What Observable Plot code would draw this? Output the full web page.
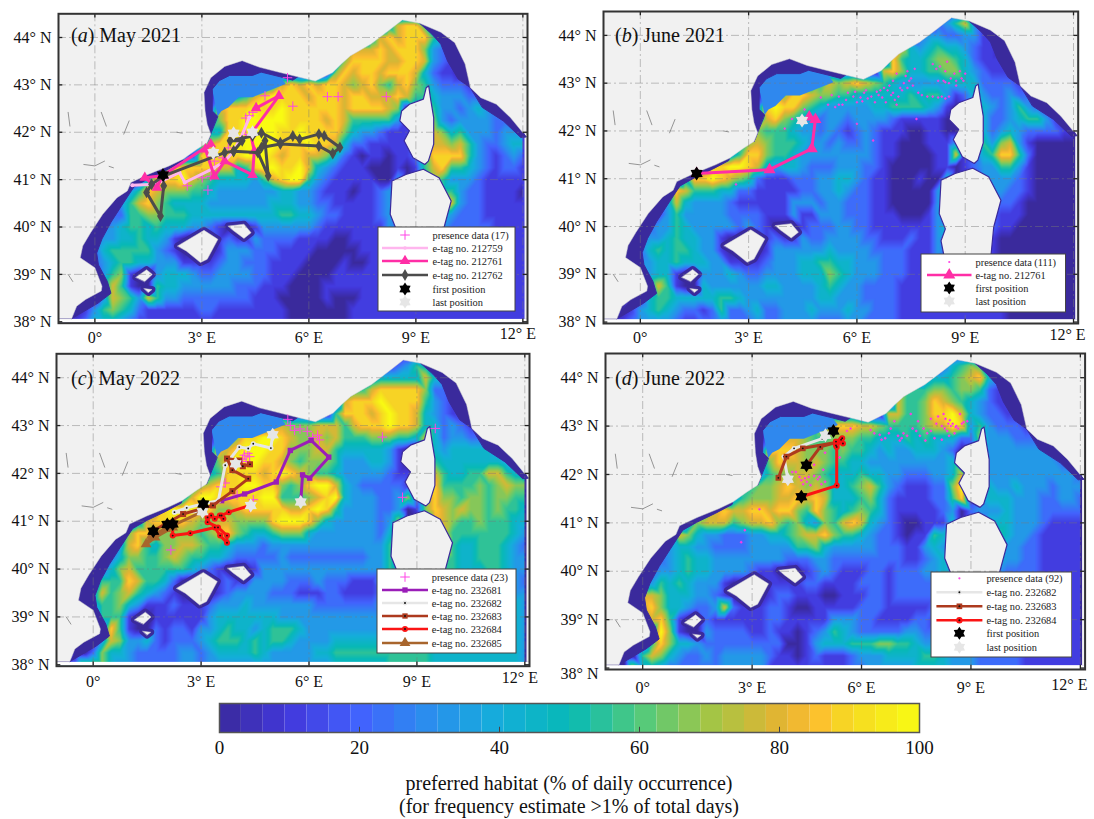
<!DOCTYPE html>
<html><head><meta charset="utf-8">
<script src="https://cdn.jsdelivr.net/npm/d3@7"></script>
<script src="https://cdn.jsdelivr.net/npm/@observablehq/plot@0.6"></script>
<style>
html,body{margin:0;padding:0;background:#fff;}
#page{position:relative;width:1094px;height:819px;overflow:hidden;font-family:"Liberation Serif",serif;color:#111;}
#page>svg,#page>div{position:absolute;}
.plab{font-size:20px;white-space:nowrap;}
.cap{font-size:20px;left:219px;width:700px;text-align:center;white-space:nowrap;}
</style></head><body><div id="page"></div>
<script>
// Habitat grids: rows lat 44.5 -> 38 (0.25 deg), columns lon -1 -> 12 (0.25 deg); digit d = d/9*100 %
const habitatA=[
"0000 0000 0000 0000 0000 0000 0000 0000 0000 0000 0000 0000 0000 0",
"0000 0000 0000 0000 0000 0000 0000 0000 0000 0478 8520 0000 0000 0",
"0000 0000 0000 0000 0000 0000 0000 0000 0004 7878 8852 0000 0000 0",
"0000 0000 0000 0000 0000 0000 0000 0000 5777 8788 8632 1000 0000 0",
"0000 0000 0000 0000 0000 0000 0000 0000 6888 8778 8732 1000 0000 0",
"0000 0000 0000 0000 0002 1211 1000 0006 8788 7888 7421 1000 0000 0",
"0000 0000 0000 0000 0023 3333 4787 8788 7678 6578 6532 2211 0000 0",
"0000 0000 0000 0000 0033 4578 9888 7888 7887 7787 5543 3322 1211 0",
"0000 0000 0000 0000 0178 8898 8988 8888 7888 8760 3453 3234 3331 0",
"0000 0000 0000 0000 0368 8999 9988 8878 7555 5531 1663 2333 3222 1",
"0000 0000 0000 0000 1448 8999 9889 8888 6433 2111 2576 4533 3233 2",
"0000 0000 0000 0004 5788 9999 9888 9887 4221 1111 2677 6753 2234 4",
"0000 0000 0000 0011 8888 8999 8788 7764 2101 1011 2588 8853 2123 2",
"0000 0000 0001 5888 8877 4589 9889 7432 1110 0010 1578 5543 2122 1",
"0000 0000 0048 8897 6544 4435 7899 5321 1111 0030 1265 3332 1111 1",
"0000 0001 3587 6665 5433 3333 3443 3211 1011 2310 0035 5322 1111 0",
"0000 0023 5786 5444 4333 3333 4443 3221 1111 2310 0028 7322 1111 1",
"0000 0022 5566 5554 4444 4444 4554 4322 1111 2320 0124 3222 1111 1",
"0000 1234 5545 4443 3210 0013 3333 3211 1111 1320 0123 2222 2111 1",
"0000 2334 4544 3100 0012 1132 2221 1110 0111 1320 0123 2211 2211 1",
"0001 2455 5553 2100 0013 3322 2111 1000 0011 1320 0122 2111 2211 1",
"0001 2345 5443 3311 1123 3222 1111 0000 1001 1320 0122 2111 2211 1",
"0000 1356 1003 4443 2233 3322 1110 0001 1111 1111 1122 2111 1111 1",
"0000 0375 1005 4433 3333 2221 1100 0011 1111 1111 1111 1111 1111 1",
"0000 0376 5375 3322 2222 2211 1000 0010 0011 1111 1111 1111 1111 1",
"0001 3565 4211 1111 2211 1111 1100 0000 0111 1111 1111 1111 1111 1",
"0012 4443 2111 1111 1111 1111 1100 0000 0111 1111 1111 1111 1111 1"];
const habitatB=[
"0000 0000 0000 0000 0000 0000 0000 0000 0000 0000 0000 0000 0000 0",
"0000 0000 0000 0000 0000 0000 0000 0000 0000 0235 7300 0000 0000 0",
"0000 0000 0000 0000 0000 0000 0000 0000 0002 3322 3311 0000 0000 0",
"0000 0000 0000 0000 0000 0000 0000 0000 3743 4544 3211 0000 0000 0",
"0000 0000 0000 0000 0000 0000 0000 0000 8544 5665 4211 1000 0000 0",
"0000 0000 0000 0000 0023 3321 1111 0007 8644 5566 4321 1100 0000 0",
"0000 0000 0000 0000 0023 3333 5767 8765 4333 3344 4422 2211 1000 0",
"0000 0000 0000 0000 0024 6887 6655 4444 4454 5531 2432 2322 1111 0",
"0000 0000 0000 0000 0289 8865 4333 3344 5555 4310 1443 2353 2111 0",
"0000 0000 0000 0000 0278 6543 2332 3333 2111 1100 1442 2345 5311 0",
"0000 0000 0000 0000 1655 5433 2321 2321 1100 1100 1342 3432 2221 1",
"0000 0000 0000 0005 6765 5543 3232 2321 1000 1113 1253 6731 0000 0",
"0000 0000 0000 0135 8865 5433 3333 3321 1000 0117 1245 8852 0000 0",
"0000 0000 0125 8899 8743 4432 2233 3221 0000 0110 1233 5531 0000 0",
"0000 0000 0488 9876 5211 1222 3344 3211 0001 0040 0133 3321 0000 0",
"0000 0003 8755 5442 2111 1122 3343 2211 0000 0330 0023 3221 0000 0",
"0000 0013 7433 3321 1111 1333 2332 2211 0000 0330 0023 2210 0000 0",
"0000 0013 5333 3322 2211 1311 3332 2211 1000 1320 0012 1110 0000 0",
"0000 1233 5433 3332 3210 0012 2233 2211 1111 1340 0012 1100 0000 0",
"0000 2334 5443 3100 0012 1132 2333 3221 1121 1320 0011 0000 0000 0",
"0001 2454 5543 3100 0013 3333 3433 3322 2211 1320 0011 0000 0000 0",
"0001 3344 5444 3311 1123 3344 5544 3332 2211 1220 0011 0000 0000 0",
"0001 6344 1003 3343 2233 3344 4654 3332 2211 1111 1111 0000 0000 0",
"0000 1375 1004 3333 3344 3333 4543 3222 2111 1111 1111 0000 0000 0",
"0000 1455 4444 4554 3333 3333 4433 3222 2111 1111 1111 1000 0000 0",
"0001 3454 3221 2522 3422 3334 3334 3322 2111 1111 1111 1000 0000 0",
"0012 3333 2112 2322 2322 3333 2223 3222 2111 1111 1111 1000 0000 0"];
const habitatC=[
"0000 0000 0000 0000 0000 0000 0000 0000 0000 0000 0000 0000 0000 0",
"0000 0000 0000 0000 0000 0000 0000 0000 0000 0123 5410 0000 0000 0",
"0000 0000 0000 0000 0000 0000 0000 0000 0003 4444 4742 0000 0000 0",
"0000 0000 0000 0000 0000 0000 0000 0000 4557 8888 8622 1000 0000 0",
"0000 0000 0000 0000 0000 0000 0000 0000 7888 9888 8532 1000 0000 0",
"0000 0000 0000 0000 0012 3321 1111 0005 8887 8988 7432 1100 0000 0",
"0000 0000 0000 0000 0023 3334 7766 6777 5788 8988 7442 3211 1000 0",
"0000 0000 0000 0000 0024 6889 9876 6767 5556 6655 4742 3322 1111 0",
"0000 0000 0000 0000 0287 8999 8866 6775 4444 4310 1743 4444 4332 1",
"0000 0000 0000 0000 0368 9998 8765 6665 3334 4310 1854 4444 4433 2",
"0000 0000 0000 0000 1458 8887 8987 6554 3333 3211 2775 4455 7754 3",
"0000 0000 0000 0004 6788 8998 8656 8997 4322 2221 2785 5556 5676 6",
"0000 0000 0000 0137 9988 8889 9555 6789 4333 2236 2686 6566 5665 5",
"0000 0000 0025 8999 8866 7888 8877 8985 3333 2230 1687 6766 5655 4",
"0000 0000 0378 8887 6677 6666 8999 8643 3333 2360 0377 6556 5554 4",
"0000 0003 6886 6666 5678 6544 5666 4333 3333 2440 0287 5555 5554 3",
"0000 0023 7854 6677 6554 3332 3333 3333 3333 3530 0268 5445 5543 2",
"0000 0024 6655 6765 5443 2222 2322 2222 2223 3530 0246 5445 5543 3",
"0000 1246 7555 5554 3210 0013 3333 3333 3333 3540 0245 5444 5543 3",
"0000 3555 8755 4200 0012 1133 3322 2322 2111 3540 0134 4444 4443 2",
"0001 3756 7543 2100 0012 3333 2221 1122 1111 2331 1234 4444 5543 3",
"0001 3556 4311 1211 1233 3433 3333 3222 2222 3443 3344 5555 5544 3",
"0001 1555 1001 1111 1344 4444 4333 3333 3333 3333 3344 4444 4444 3",
"0000 1285 1002 1221 3345 4434 5554 3333 3333 3344 4444 4444 4444 3",
"0000 0376 3342 1222 3455 5454 5543 3334 4444 4444 4444 4444 4444 3",
"0000 2644 3222 2233 2344 4454 3333 3445 5555 5555 5544 4444 4444 3",
"0026 6643 3222 2233 2333 3333 3333 3334 4444 4555 5544 4444 4444 3"];
const habitatD=[
"0000 0000 0000 0000 0000 0000 0000 0000 0000 0000 0000 0000 0000 0",
"0000 0000 0000 0000 0000 0000 0000 0000 0000 0245 6510 0000 0000 0",
"0000 0000 0000 0000 0000 0000 0000 0000 0003 4456 7842 0000 0000 0",
"0000 0000 0000 0000 0000 0000 0000 0000 3555 6656 6521 1000 0000 0",
"0000 0000 0000 0000 0000 0000 0000 0000 7556 8765 4321 1000 0000 0",
"0000 0000 0000 0000 0023 3321 1222 0007 7556 8897 4322 1100 0000 0",
"0000 0000 0000 0000 0023 3335 7888 7765 5556 7798 3532 2211 1000 0",
"0000 0000 0000 0000 0024 7765 5666 5544 4545 4442 2633 3222 1111 0",
"0000 0000 0000 0000 0288 8766 6565 5434 3344 4320 1533 3333 3221 0",
"0000 0000 0000 0000 0368 7767 6554 4333 3333 3340 1633 3333 3322 1",
"0000 0000 0000 0000 1356 6776 5444 5443 3222 3347 1533 3333 3333 2",
"0000 0000 0000 0005 5667 8767 6445 6753 2111 2269 1343 3433 3233 3",
"0000 0000 0000 0135 6667 7878 7444 5642 1111 2258 1344 4333 2233 2",
"0000 0000 0025 7877 8878 8658 6545 6542 1111 1230 2333 4333 2222 2",
"0000 0000 0367 7756 7786 5643 6578 7432 1001 1140 1244 4333 2111 1",
"0000 0003 7643 3222 3344 5677 8655 4322 1011 5430 0255 4332 1111 1",
"0000 0023 4433 2222 3333 3556 4333 3322 2113 4320 0384 3322 1111 1",
"0000 0023 4544 3333 3333 2223 3222 2222 2112 3430 0274 3322 1111 1",
"0000 1233 4544 3333 2110 0012 3211 1221 2223 3430 0233 2222 1111 1",
"0000 2354 5433 3100 0011 1122 1111 2221 2222 2322 2222 2211 1111 1",
"0001 7764 4433 2100 0012 2111 0011 1221 2222 2222 2222 2211 1111 1",
"0001 7864 4322 3721 1122 1001 1111 2221 1111 2222 2222 2211 1111 1",
"0000 1785 1002 1111 1122 1111 1333 2211 1122 1223 2222 2211 1111 1",
"0000 1396 1003 2222 1121 1012 3543 2222 2332 2111 2222 2211 1111 1",
"0000 1586 4432 2222 2222 0013 4445 5566 5543 3333 3222 2211 1111 1",
"0000 5764 3223 2333 3321 1012 1112 3334 4445 5433 3222 2211 1111 1",
"0007 4432 2222 2333 3311 1111 1112 2333 3344 4433 3222 2211 1111 1"];
const lonTicks=[0,3,6,9,12], latTicks=[38,39,40,41,42,43,44];
const bandStarts=[0,3.125,6.25,9.375,12.5,15.625,18.75,21.875,25,28.125,31.25,34.375,37.5,40.625,43.75,46.875,50,53.125,56.25,59.375,62.5,65.625,68.75,71.875,75,78.125,81.25,84.375,87.5,90.625,93.75,96.875];
const colorStops=[0,10,20,30,40,50,60,70,80,85,90,100];
const colorRange=["#3a2a9c","#4238dc","#4262fd","#2a8eee","#14aeda","#07b9b6","#4fca7e","#a2c646","#e2b432","#fdbd30","#f5d922","#f9fb12"];
// Coastlines
const mainland=[[-0.65,38.07],[-0.51,38.33],[-0.26,38.47],[0.18,38.65],[0.2,38.75],[0,39.14],[-0.41,39.35],[-0.34,39.6],[-0.12,39.88],[0.22,40.27],[0.62,40.62],[0.91,40.76],[1.01,40.94],[1.49,41.11],[2.08,41.29],[2.47,41.43],[2.86,41.64],[3.15,41.78],[3.25,41.96],[3.15,42.17],[3.09,42.45],[3.06,42.84],[3.25,43.15],[3.64,43.39],[4.13,43.51],[4.62,43.37],[5.2,43.26],[5.69,43.17],[6.18,43.08],[6.67,43.26],[6.91,43.44],[7.16,43.61],[7.74,43.86],[8.23,44.14],[8.62,44.37],[9.11,44.3],[9.7,44.11],[10.09,43.89],[10.38,43.44],[10.53,42.94],[10.82,42.73],[11.26,42.59],[11.65,42.31],[11.99,42],[12.2,41.96],[12.2,44.6],[-1.1,44.6],[-1.1,38.07],[-0.65,38.07]];
const corsica=[[9.36,42.98],[9.42,42.67],[9.5,42.31],[9.5,41.75],[9.35,41.39],[9.25,41.32],[8.92,41.46],[8.77,41.68],[8.67,41.82],[8.82,42.03],[8.55,42.24],[8.6,42.45],[8.82,42.59],[9.21,42.7],[9.29,42.94],[9.36,42.98]];
const sardinia=[[9.21,41.22],[9.65,41.04],[9.99,40.55],[9.79,39.99],[9.7,39.28],[9.5,38.93],[8.53,38.93],[8.33,39.7],[8.45,39.95],[8.28,40.27],[8.33,40.97],[8.72,41.11],[9.21,41.22]];
const mallorca=[[2.32,39.6],[3.06,39.93],[3.45,39.74],[3.15,39.32],[2.96,39.25],[2.57,39.49],[2.32,39.6]];
const menorca=[[3.74,40.02],[4.18,40.06],[4.38,39.88],[4.18,39.76],[3.89,39.92],[3.74,40.02]];
const ibiza=[[1.15,38.94],[1.45,39.1],[1.61,39],[1.4,38.85],[1.15,38.94]];
const formentera=[[1.38,38.7],[1.6,38.68],[1.5,38.62],[1.38,38.7]];
// Dark shelf rims and the Gulf of Lion plateau
const shelfLion=[[3.15,41.78],[3.25,41.96],[3.15,42.17],[3.09,42.45],[3.06,42.84],[3.25,43.15],[3.64,43.39],[4.13,43.51],[4.62,43.37],[5.2,43.26],[5.69,43.17],[5.55,43.1],[5.2,43.17],[4.66,43.27],[4.42,43.2],[3.78,43.2],[3.49,43.09],[3.29,42.91],[3.29,42.45],[3.44,42.34],[3.3,42.0]];
const plateauLion=[[3.29,42.91],[3.49,43.09],[3.78,43.2],[4.42,43.2],[4.66,43.27],[5.2,43.17],[5.35,43.02],[4.42,42.74],[4.03,42.74],[3.74,42.52],[3.55,42.45],[3.44,42.34],[3.29,42.45]];
const shelfWest=[[-0.65,38.07],[-0.26,38.47],[0.18,38.65],[0.2,38.75],[0,39.14],[-0.41,39.35],[-0.34,39.6],[-0.12,39.88],[0.22,40.27],[0.62,40.62],[0.91,40.76],[1.01,40.94],[1.49,41.11],[2.08,41.29],[2.47,41.43],[2.45,41.38],[2,41.2],[1.5,41.02],[1.1,40.85],[0.95,40.68],[0.75,40.45],[0.45,40.1],[0.2,39.75],[0.05,39.45],[0.1,39.2],[0.35,38.85],[0.45,38.6],[0.1,38.4],[-0.3,38.07]];
const shelfLigurian=[[9.11,44.3],[9.7,44.11],[10.09,43.89],[10.38,43.44],[10.53,42.94],[10.19,43.12],[9.89,43.5],[9.7,43.86],[9.45,44.07],[9.11,44.25]];
const shelfTuscan=[[10.53,42.94],[10.82,42.73],[11.26,42.59],[11.65,42.31],[11.99,42],[12.1,41.9],[11.94,41.89],[11.45,42.24],[10.87,42.52],[10.6,42.65]];
const landLines=[[[-0.31,41.32],[0,41.29],[0.27,41.39]],[[0.4,41.28],[0.52,41.25]],[[0.18,42.42],[0.32,42.13]],[[-0.75,42.42],[-0.7,42.13]],[[0.96,42.24],[0.81,41.96]],[[2.3,42.0],[2.45,41.98]],[[-0.75,39.0],[-0.62,38.85]]];
// Tracks
const tag212759=[[1.05,40.88],[1.69,40.9],[2.37,41.15],[2.52,40.94],[3.35,41.25],[3.64,41.39],[3.89,41.6],[4.1,41.9],[4.33,42.31]];
const tag212761a=[[1.89,41.08],[1.4,41.04],[1.74,40.83],[1.89,41.08],[3.25,41.75],[3.1,41.64],[3.35,41.07],[3.64,41.39],[4.42,41.1],[4.47,41.6],[4.37,41.96],[5.16,42.77],[4.52,42.51]];
const tag212762=[[1.93,40.87],[1.84,40.23],[1.45,40.73],[1.59,40.9],[1.93,41.08],[3.64,41.57],[3.89,41.6],[4.13,41.82],[3.79,41.82],[4.42,41.92],[4.67,41.99],[5.2,41.78],[5.55,41.92],[5.74,41.85],[6.28,41.96],[6.43,41.92],[6.87,41.68],[6.67,41.55],[6.28,41.71],[5.2,41.75],[4.67,41.68],[4.77,41.82],[4.86,41.08],[4.57,41.57],[3.89,41.6]];
const tag212761b=[[1.56,41.11],[3.58,41.19],[4.75,41.63],[4.85,42.24],[4.68,42.29]];
const tag232681=[[3.57,41.43],[4.21,41.57],[5.09,41.82],[5.48,42.48],[6.06,42.69],[6.55,42.34],[6.02,41.9],[5.82,41.97],[5.77,41.4]];
const tag232682c=[[3.04,41.2],[2.26,41.19],[2.6,41.28],[3.04,41.36],[3.48,41.43],[3.67,42.17],[4.06,42.55],[4.31,42.52],[4.45,42.62],[4.94,42.53],[4.99,42.81]];
const tag232683c=[[1.67,40.8],[2.5,41.15],[3.33,41.33],[3.87,41.63],[4.31,41.89],[3.87,42.07],[3.72,42.31],[4.06,42.27],[4.16,42.15],[4.36,42.19]];
const tag232684c=[[2.21,40.94],[2.21,40.7],[2.7,40.75],[3.38,40.87],[3.53,40.7],[3.72,40.55],[3.72,40.7],[3.47,40.87],[3.18,40.98],[3.18,41.08],[3.28,41.12],[3.38,41.05],[3.52,41.12],[3.62,41.05],[3.57,41.12],[3.77,41.19],[4.36,41.33]];
const tag232685=[[2.21,40.87],[1.72,40.66],[1.47,40.52],[1.62,40.7],[2.01,40.84],[3.04,41.2]];
const tag232682d=[[5.23,42.9],[4.92,42.74],[4.15,42.54],[3.87,42.37],[3.98,41.9]];
const tag232683d=[[4.49,42.19],[4.87,42.57],[5.3,42.66],[4.39,42.54],[3.94,42.37],[3.72,41.93]];
const tag232684d=[[4.35,41.54],[5.32,41.77],[5.32,42.57],[5.44,42.72],[5.49,42.64],[5.47,42.75],[5.3,42.68],[5.3,42.6]];
const firstA=[[1.91,41.1]], lastA=[[3.89,41.98],[4.42,42],[3.32,41.57]];
const firstB=[[1.56,41.11]], lastB=[[4.48,42.22]];
const firstC=[[1.67,40.79],[2.06,40.93],[2.21,40.94],[3.06,41.36]], lastC=[[4.99,42.81],[5.77,41.4],[3.96,42.2],[4.38,41.33],[3.04,41.2]];
const firstD=[[5.23,42.9],[4.49,42.19],[4.35,41.54]], lastD=[[3.98,41.9],[5.01,42.81]];
const presenceA=[[5.55,42.55],[6.52,42.75],[6.82,42.75],[8.17,42.75],[5.4,43.15],[3.17,40.78],[4.23,42.3],[4.33,42.35],[4.43,42.42],[2.59,40.87],[4.77,42.77],[3.01,41.04],[3.35,41.39],[3.59,41.46],[3.74,41.67],[4.23,41.95],[3.25,41.07]];
const presenceB=[[5,42.7],[5.2,42.55],[5.3,42.75],[5.5,42.72],[5.7,42.65],[5.75,42.8],[5.9,42.72],[6,42.6],[6.1,42.7],[6.2,42.8],[6.3,42.68],[6.4,42.72],[6.5,42.6],[6.6,42.75],[6.7,42.7],[6.8,42.6],[6.85,42.85],[6.9,42.95],[7,42.8],[7.05,42.65],[7.1,42.55],[7.2,42.9],[7.3,43],[7.35,43.15],[7.4,43.25],[7.45,43.05],[7.5,43.1],[7.1,43.2],[7,43.05],[6.95,42.75],[7.25,42.85],[7.4,42.9],[7.6,43.3],[7.7,42.8],[7.8,42.75],[7.95,42.72],[8.1,42.72],[8.25,42.7],[8.35,42.72],[8.45,42.68],[8.55,42.72],[8.1,43.4],[8.2,43.3],[8.3,43.35],[8.45,43.25],[8.5,43.45],[8.6,43.1],[8.7,43.2],[8.75,43.05],[8.85,43.25],[8.9,43.1],[9,43.2],[8.4,43.05],[8.45,43.02],[8.55,43],[8.25,43.05],[8.75,42.95],[8.95,43.05],[4.55,42.45],[4.2,42.25],[4,42.05],[5.4,42.5],[5.5,42.55],[5.6,42.55],[6,42.15],[6.45,41.8],[7.65,42.25],[2.65,40.88],[6.25,42.85],[6.55,42.82],[5.95,42.82],[6.15,42.62],[7.15,42.72],[7.55,42.95],[6.65,42.85],[6.75,42.9]];
const presenceC=[[5.41,43.13],[5.48,43],[5.75,42.93],[5.95,42.88],[6.24,42.8],[6.29,42.7],[8.04,42.76],[4.2,42.38],[4.3,42.42],[4.15,42.3],[3.67,41.8],[4.45,41.45],[2.16,40.4],[8.6,41.5],[9.51,42.94],[4.35,42.35],[4.25,42.25],[3.9,42.2],[3.55,41.72],[4.35,41.3],[4,41.55],[6.1,42.75],[5.6,42.9]];
const presenceD=[[6.25,42.92],[6.5,42.82],[6.55,42.72],[6.65,42.75],[6.8,42.95],[6.9,43.1],[7,42.8],[7.1,42.75],[7.25,42.8],[7.35,43.25],[7.4,42.95],[7.5,42.9],[7.6,42.8],[7.7,42.95],[7.8,42.85],[7.9,42.9],[8.05,43.05],[8,42.75],[8.2,43],[8.25,43.25],[8.3,43.15],[8.35,42.9],[8.4,42.8],[8.45,43],[8.5,43.05],[8.55,42.85],[8.6,43],[8.65,42.95],[8.7,43.25],[8.75,43.05],[8.8,43.08],[8.9,43.1],[6.35,42.85],[5.6,42.9],[5.7,42.95],[7.9,43.15],[8.1,43.2],[8.28,42.95],[8.38,43.05],[7.15,42.85],[7.55,43.1],[6.75,42.85],[5.1,42.85],[4.9,42.55],[5,42.45],[4.2,42.05],[4.3,41.95],[4.5,41.85],[4.55,41.95],[4.7,41.97],[4.8,41.9],[4.9,41.8],[5,41.85],[4.95,42.1],[4.7,42.2],[4.4,41.8],[4.1,42.05],[4.35,41.88],[3.2,41.28],[2.8,40.85],[2.7,40.6],[5.4,42.35],[4.6,41.78],[4.85,41.95],[4.45,41.92],[7.05,42.7],[7.75,42.7],[8.2,42.72],[8.42,43.12],[8.58,42.98]];

// Layout and styles
const page=document.getElementById("page");
const serif="Liberation Serif";
const lonDomain=[-1.02,12.13], latDomain=[37.97,44.5];
const hexagram={draw(ctx,size){const R=Math.sqrt(size/Math.PI),r=R*0.62;for(let i=0;i<12;i++){const a=Math.PI*i/6-Math.PI/2,q=i%2?r:R,x=q*Math.cos(a),y=q*Math.sin(a);i?ctx.lineTo(x,y):ctx.moveTo(x,y);}ctx.closePath();}};
const pink="#ff2ea6",lpink="#ffb6ee",dgray="#4c4c4c",purple="#9a1db8",lgray="#e6e6e6",brown="#ad3a1e",red="#fb1414",tan="#a8652c";
const style={fontFamily:serif,background:"transparent",overflow:"visible",color:"#111"};
const colorOpt={type:"linear",domain:colorStops,range:colorRange,clamp:true,interpolate:"rgb"};
const poly=r=>({type:"Polygon",coordinates:[r]});
const xv=d=>d[0],yv=d=>d[1];
const tag=(pts,stroke,symbol,r,centre)=>[
  Plot.line(pts,{x:xv,y:yv,stroke,strokeWidth:3,curve:"linear"}),
  Plot.dot(pts,{x:xv,y:yv,symbol,r,fill:stroke}),
  centre?Plot.dot(pts,{x:xv,y:yv,r:0.9,fill:"#111"}):null
];
function panel(cfg){
  const pts=cfg.grid.flatMap((s,i)=>Array.from(s.replace(/ /g,"")).map((c,j)=>({x:-1+0.25*j,y:44.5-0.25*i,v:+c*100/9})));
  const marks=[
    Plot.raster(pts,{x:"x",y:"y",fill:"v",interpolate:"barycentric",pixelSize:1}),
    Plot.rect([0],{x1:-1.02,x2:12.13,y1:37.97,y2:38.05,fill:"#fff"}),
    Plot.rect([0],{x1:12.06,x2:12.13,y1:38.05,y2:44.5,fill:"#f1f1f1"}),
    Plot.geo(poly(plateauLion),{fill:"#2f88ee"}),
    ...[shelfLion,shelfWest,shelfLigurian,shelfTuscan].map(r=>Plot.geo(poly(r),{fill:"#3a2a9c",stroke:"#3a2a9c",strokeWidth:1})),
    ...[mallorca,menorca,ibiza,formentera].map(r=>Plot.geo(poly(r),{fill:"#f1f1f1",stroke:"#3a2a9c",strokeWidth:7})),
    ...[mallorca,menorca,ibiza,formentera].map(r=>Plot.geo(poly(r),{fill:"#f1f1f1",stroke:"#cfcfcf",strokeWidth:0.5})),
    ...[corsica,sardinia].map(r=>Plot.geo(poly(r),{fill:"#f1f1f1",stroke:"#3a2a9c",strokeWidth:1.2})),
    Plot.geo(poly(mainland),{fill:"#f1f1f1",stroke:"#cfcfcf",strokeWidth:0.5,clip:"frame"}),
    ...landLines.map(l=>Plot.line(l,{x:xv,y:yv,stroke:"#8a8a8a",strokeWidth:0.9})),
    Plot.gridX(lonTicks,{stroke:"#777",strokeOpacity:0.5,strokeWidth:0.9,strokeDasharray:"8 3 2 3"}),
    Plot.gridY(latTicks.slice(1),{stroke:"#777",strokeOpacity:0.5,strokeWidth:0.9,strokeDasharray:"8 3 2 3"}),
    Plot.dot(cfg.presence,{x:xv,y:yv,symbol:cfg.presSym,r:cfg.presR,stroke:"#ff45e6",fill:"#ff2fe0",strokeWidth:cfg.presSym==="plus"?1:0.6}),
    ...cfg.tags.flatMap(t=>tag(...t)),
    Plot.dot(cfg.last,{x:xv,y:yv,symbol:hexagram,r:7,fill:"#e6e6e6"}),
    Plot.dot(cfg.first,{x:xv,y:yv,symbol:hexagram,r:7,fill:"#000"}),
    Plot.ruleX(lonTicks,{y1:37.97,y2:38.06,stroke:"#222",strokeWidth:1.3}),
    Plot.ruleX(lonTicks,{y1:44.41,y2:44.5,stroke:"#222",strokeWidth:1.3}),
    Plot.ruleY(latTicks,{x1:-1.02,x2:-0.9,stroke:"#222",strokeWidth:1.3}),
    Plot.ruleY(latTicks,{x1:12.01,x2:12.13,stroke:"#222",strokeWidth:1.3}),
    Plot.frame({stroke:"#333",strokeWidth:2}),
    Plot.axisX(lonTicks.slice(0,4),{tickSize:0,tickPadding:cfg.xPad,fontSize:16,fontFamily:serif,tickFormat:d=>d===0?"0°":d+"° E",label:null}),
    Plot.text([12],{x:d=>d,frameAnchor:"bottom",dy:cfg.xPad+8,dx:cfg.dx12,text:d=>d+"° E",fontSize:16,fontFamily:serif,fill:"#111"}),
    Plot.axisY(cfg.shift38?latTicks.slice(1):latTicks,{tickSize:0,tickPadding:7,fontSize:16,fontFamily:serif,tickFormat:d=>d+"° N",label:null}),
    cfg.shift38?Plot.text([38],{y:d=>d,frameAnchor:"left",dx:-7,dy:cfg.shift38,textAnchor:"end",text:d=>d+"° N",fontSize:16,fontFamily:serif,fill:"#111"}):null
  ];
  const svg=Plot.plot({width:cfg.w,height:345,marginLeft:cfg.l,marginRight:cfg.r,marginTop:cfg.t,marginBottom:cfg.b,
    x:{domain:lonDomain,axis:null},y:{domain:latDomain,axis:null},color:colorOpt,style,marks});
  svg.style.left=cfg.sx+"px";svg.style.top=cfg.sy+"px";page.appendChild(svg);
  const lab=document.createElement("div");lab.className="plab";lab.style.left=cfg.labX+"px";lab.style.top=cfg.labY+"px";
  lab.innerHTML="(<i>"+cfg.letter+"</i>) "+cfg.title;page.appendChild(lab);
  legend(cfg.leg);
}
function legend(L){
  const s=d3.create("svg").attr("width",L.x2-L.x1+2).attr("height",L.y2-L.y1+2).style("left",(L.x1-1)+"px").style("top",(L.y1-1)+"px");
  s.append("rect").attr("x",1).attr("y",1).attr("width",L.x2-L.x1).attr("height",L.y2-L.y1).attr("fill","#fff").attr("stroke","#444").attr("stroke-width",1);
  L.rows.forEach((r,i)=>{
    const y=L.ys[i]-L.y1+1,g=s.append("g");
    const cx=(L.lx1+L.lx2)/2-L.x1+1;
    if(r.line)g.append("line").attr("x1",L.lx1-L.x1+1).attr("x2",L.lx2-L.x1+1).attr("y1",y).attr("y2",y).attr("stroke",r.line).attr("stroke-width",2.6);
    if(r.sym)g.append("path").attr("transform",`translate(${cx},${y})`).attr("d",d3.symbol().type(r.sym).size(Math.PI*r.size*r.size)()).attr(r.open?"stroke":"fill",r.col).attr("fill",r.open?"none":r.col);
    if(r.centre)g.append("circle").attr("cx",cx).attr("cy",y).attr("r",1).attr("fill","#111");
    g.append("text").attr("x",L.tx-L.x1+1).attr("y",y+3.5).attr("font-size",10.4).attr("font-family",serif).attr("fill","#222").text(r.label);
  });
  page.appendChild(s.node());
}
const mag="#ff45e6";
const pres=(n,open)=>({label:`presence data (${n})`,sym:open?d3.symbolPlus:d3.symbolCircle,col:mag,size:open?3.2:1.1,open});
const rowF={label:"first position",sym:hexagram,col:"#000",size:6.5};
const rowL={label:"last position",sym:hexagram,col:"#e6e6e6",size:6.5};
const row=(id,line,sym,size,centre)=>({label:"e-tag no. "+id,line,sym,col:line,size,centre});

panel({grid:habitatA,letter:"a",title:"May 2021",sx:0,sy:0,w:550,l:58,r:23,t:13.3,b:22.3,xPad:8,dx12:-5,labX:71,labY:24,
  presence:presenceA,presSym:"plus",presR:3.2,first:firstA,last:lastA,
  tags:[[tag212759,lpink,"circle",2],[tag212761a,pink,"triangle",4],[tag212762,dgray,"diamond",3.6]],
  leg:{x1:378,x2:515,y1:227,y2:311,lx1:382,lx2:428,tx:432.5,ys:[235,248,261,275,289,302],rows:[pres(17,true),row("212759",lpink,d3.symbolCircle,1.8),row("212761",pink,d3.symbolTriangle,4),row("212762",dgray,d3.symbolDiamond,3.6),rowF,rowL]}});
panel({grid:habitatB,letter:"b",title:"June 2021",sx:550,sy:0,w:544,l:53,r:16.3,t:11,b:22,xPad:8,dx12:-6,labX:615,labY:24,
  presence:presenceB,presSym:"circle",presR:0.9,first:firstB,last:lastB,
  tags:[[tag212761b,pink,"triangle",4.5]],
  leg:{x1:920.5,x2:1065,y1:254,y2:312,lx1:926.5,lx2:971,tx:975,ys:[262,275,288,301],rows:[pres(111,false),row("212761",pink,d3.symbolTriangle,4.5),rowF,rowL]}});
panel({grid:habitatC,letter:"c",title:"May 2022",sx:0,sy:345,w:550,l:56,r:21,t:8.3,b:24.3,xPad:9,dx12:-5,labX:71,labY:367,
  presence:presenceC,presSym:"plus",presR:3.2,first:firstC,last:lastC,
  tags:[[tag232681,purple,"square",3],[tag232682c,lgray,"circle",2.6,true],[tag232683c,brown,"square",3.4,true],[tag232684c,red,"circle",3,true],[tag232685,tan,"triangle",4]],
  leg:{x1:377,x2:516,y1:569,y2:653,lx1:382,lx2:428,tx:431.7,ys:[577,590,603,616,629,643],rows:[pres(23,true),row("232681",purple,d3.symbolSquare,3),row("232682",lgray,d3.symbolCircle,2.4,true),row("232683",brown,d3.symbolSquare,3,true),row("232684",red,d3.symbolCircle,3,true),row("232685",tan,d3.symbolTriangle,4)]}});
panel({grid:habitatD,letter:"d",title:"June 2022",sx:550,sy:345,w:544,l:55,r:9.4,t:8,b:21,xPad:12,dx12:-11,labX:615,labY:367,shift38:6,
  presence:presenceD,presSym:"circle",presR:1,first:firstD,last:lastD,
  tags:[[tag232682d,lgray,"circle",2.4,true],[tag232683d,brown,"square",3.2,true],[tag232684d,red,"circle",3,true]],
  leg:{x1:930.6,x2:1071.4,y1:571.7,y2:656.7,lx1:936,lx2:982,tx:986,ys:[578,592,606,620,633,647],rows:[pres(92,false),row("232682",lgray,d3.symbolCircle,2.4,true),row("232683",brown,d3.symbolSquare,3.2,true),row("232684",red,d3.symbolCircle,3.2,true),rowF,rowL]}});

// Colour bar
const bar=Plot.plot({width:741,height:66,marginLeft:20,marginRight:21,marginTop:5,marginBottom:32,
  x:{domain:[0,100],axis:null},y:{domain:[0,1],axis:null},color:colorOpt,style,
  marks:[
    Plot.rect(bandStarts,{x1:d=>d,x2:d=>d+3.125,y1:0,y2:1,fill:d=>d+1.5625}),
    Plot.ruleX([20,40,60,80],{y1:0,y2:0.18,stroke:"#444"}),
    Plot.frame({stroke:"#555",strokeWidth:1.5}),
    Plot.axisX([0,20,40,60,80,100],{tickSize:0,tickPadding:8,fontSize:19,fontFamily:serif,tickFormat:d=>d,label:null})
  ]});
bar.style.left="199px";bar.style.top="698px";page.appendChild(bar);
[["preferred habitat (% of daily occurrence)",772],["(for frequency estimate >1% of total days)",795]].forEach(([t,y])=>{
  const c=document.createElement("div");c.className="cap";c.textContent=t;c.style.top=y+"px";page.appendChild(c);
});
</script></body></html>
